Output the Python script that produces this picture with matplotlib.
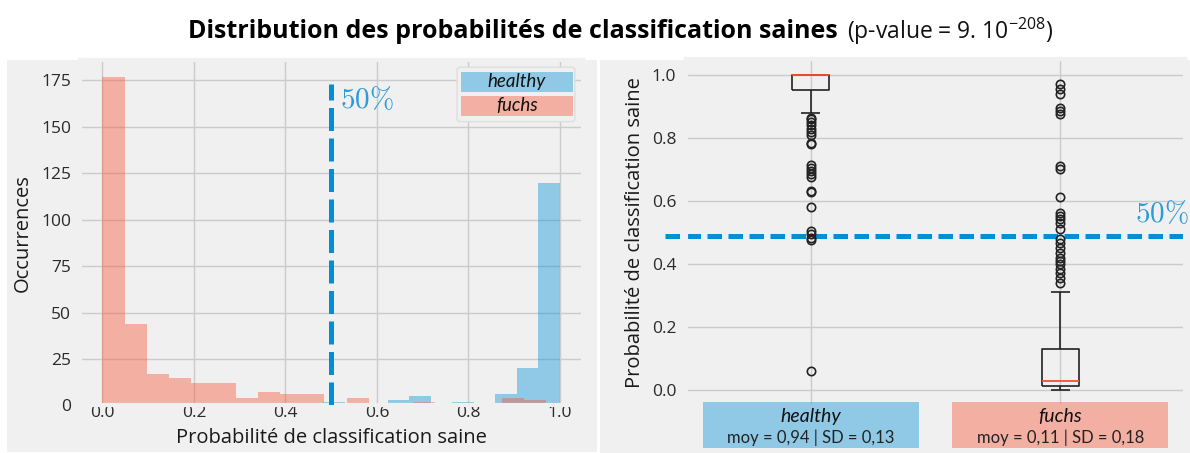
import numpy as np
import matplotlib
matplotlib.use("Agg")
import matplotlib.pyplot as plt
from matplotlib.patches import Rectangle, FancyBboxPatch
from matplotlib.transforms import blended_transform_factory

plt.style.use("fivethirtyeight")
plt.rcParams["font.family"] = ["Open Sans", "DejaVu Sans"]
plt.rcParams["mathtext.default"] = "regular"

# --- histogram counts (20 bins each, bins span each group's min..max) ---
groups = ["healthy", "fuchs"]
healthy_range = (0.06, 1.0)
healthy_counts = [1, 0, 0, 0, 0, 0, 0, 0, 0, 2, 0, 0, 3, 5, 0, 2, 1, 6, 20, 120]
fuchs_range = (0.0, 0.97)
fuchs_counts = [177, 44, 17, 15, 12, 12, 4, 7, 6, 6, 0, 4, 0, 0, 2, 0, 0, 0, 4, 3]

# --- boxplot summaries ---
healthy_box = dict(q1=0.951, med=1.0, q3=1.0, whislo=0.88, whishi=1.0)
healthy_fliers = [0.864, 0.859, 0.850, 0.840, 0.829, 0.818, 0.811, 0.783, 0.781,
                  0.715, 0.705, 0.696, 0.685, 0.677, 0.632, 0.630, 0.581,
                  0.505, 0.494, 0.484, 0.476, 0.061]
fuchs_box = dict(q1=0.013, med=0.03, q3=0.131, whislo=0.0, whishi=0.31)
fuchs_fliers = [0.972, 0.956, 0.940, 0.896, 0.887, 0.877, 0.712, 0.701, 0.613,
                0.563, 0.553, 0.544, 0.531, 0.510, 0.478, 0.468, 0.452, 0.436,
                0.420, 0.411, 0.399, 0.383, 0.370, 0.356, 0.340]
means = [0.94, 0.11]
sds = [0.13, 0.18]

threshold_hist = 0.5
threshold_box = 0.49
p_value_text = r"(p-value = 9. 10$^{-208}$)"
pct_label = r"$\mathrm{50\%}$"

blue = "#008fd5"
red = "#fc4f30"
panel = "#f0f0f0"
txt = "#2a2a2a"
calib = ["Lato", "DejaVu Sans"]

fig = plt.figure(figsize=(11.9, 4.53), dpi=100, facecolor="white")

# grey backgrounds behind each panel
H = 453.0
W = 1190.0
fig.patches.append(Rectangle((7 / W, 1 / H), 590 / W, 392 / H, transform=fig.transFigure,
                             facecolor=panel, edgecolor="none", zorder=-10))
fig.patches.append(Rectangle((600 / W, 0), 590 / W, 393 / H, transform=fig.transFigure,
                             facecolor=panel, edgecolor="none", zorder=-10))

# ---------------- left: histogram ----------------
ax1 = fig.add_axes([0.0669, 0.1050, 0.4229, 0.7620])
ax1.set_facecolor(panel)
hb = np.linspace(*healthy_range, len(healthy_counts) + 1)
fb = np.linspace(*fuchs_range, len(fuchs_counts) + 1)
ax1.hist(hb[:-1], bins=hb, weights=healthy_counts, histtype="stepfilled",
         color=blue, alpha=0.4, lw=0, label="healthy")
ax1.hist(fb[:-1], bins=fb, weights=fuchs_counts, histtype="stepfilled",
         color=red, alpha=0.4, lw=0, label="fuchs")
ax1.set_xlim(-0.05, 1.05)
ax1.set_ylim(0, max(fuchs_counts) * 1.05)
ax1.set_xticks(np.arange(0, 1.01, 0.2))
ax1.set_yticks(np.arange(0, 176, 25))
ax1.vlines(threshold_hist, 0, 173, colors=blue, lw=3.6, linestyles=(0, (4.6, 1.5)), zorder=3)
ax1.text(threshold_hist + 0.02, 164, pct_label, math_fontfamily="cm", fontsize=21,
         color="#2b9bd9", va="center", ha="left")
ax1.tick_params(axis="both", labelsize=12.5, colors=txt, length=0)
ax1.tick_params(axis="x", pad=0)
ax1.tick_params(axis="y", pad=6)
ax1.grid(True, color="#cbcbcb", lw=1)
ax1.set_xlabel("Probabilité de classification saine", fontsize=14.5, color="#1a1a1a", va="center")
ax1.xaxis.set_label_coords(0.5, -0.095)
ax1.set_ylabel("Occurrences", fontsize=14.5, color="#1a1a1a", va="center")
ax1.yaxis.set_label_coords(-0.113, 0.5)

# legend drawn as coloured label boxes inside a light frame
ax1.add_patch(FancyBboxPatch((0.750, 0.822), 0.234, 0.158, transform=ax1.transAxes,
                             boxstyle="round,pad=0,rounding_size=0.008",
                             facecolor=panel, edgecolor="#dedede", lw=1, zorder=5))
for i, (name, col) in enumerate(zip(groups, [blue, red])):
    y0 = 0.908 - i * 0.069
    ax1.add_patch(Rectangle((0.758, y0), 0.222, 0.058, transform=ax1.transAxes,
                            facecolor=col, alpha=0.4, edgecolor="none", zorder=6))
    ax1.text(0.869, y0 + 0.029, name, transform=ax1.transAxes, ha="center", va="center",
             fontsize=13.5, style="italic", family=calib, color="#111111", zorder=7)

# ---------------- right: boxplot ----------------
ax2 = fig.add_axes([0.5765, 0.1043, 0.4193, 0.7650])
ax2.set_facecolor(panel)
stats = []
for name, box, fl in zip(groups, [healthy_box, fuchs_box], [healthy_fliers, fuchs_fliers]):
    s = dict(box)
    s["fliers"] = fl
    s["label"] = name
    stats.append(s)
ax2.bxp(stats, positions=[1, 2], widths=0.15,
        boxprops=dict(color="#222222", lw=1.2),
        whiskerprops=dict(color="#222222", lw=1.2),
        capprops=dict(color="#222222", lw=1.2),
        medianprops=dict(color=red, lw=1.3),
        flierprops=dict(marker="o", markerfacecolor="none", markeredgecolor="#222222",
                        markersize=6, markeredgewidth=1.2))
ax2.set_xlim(0.5, 2.5)
ax2.set_ylim(-0.05, 1.05)
ax2.set_xticks([1, 2])
ax2.set_xticklabels(["", ""])
ax2.set_yticks(np.arange(0, 1.01, 0.2))
ax2.tick_params(axis="both", labelsize=12.5, colors=txt, length=0)
ax2.tick_params(axis="y", pad=7)
ax2.grid(True, color="#cbcbcb", lw=1)
ax2.axhline(threshold_box, xmin=-0.042, xmax=1.02, color=blue, lw=3.6,
            ls=(0, (2.9, 1.3)), clip_on=False, zorder=1)
ax2.text(2.3, 0.557, pct_label, math_fontfamily="cm", fontsize=21, color="#2b9bd9",
         va="center", ha="left", clip_on=False)
ax2.set_ylabel("Probabilité de classification saine", fontsize=14.5, color="#1a1a1a", va="center")
ax2.yaxis.set_label_coords(-0.102, 0.5)

# group captions under each box
tr = blended_transform_factory(ax2.transData, ax2.transAxes)
for pos, name, col, m, sd in zip([1, 2], groups, [blue, red], means, sds):
    ax2.add_patch(Rectangle((pos - 0.432, -0.122), 0.864, 0.133, transform=tr,
                            facecolor=col, alpha=0.4, edgecolor="none", clip_on=False, zorder=4))
    ax2.text(pos, -0.030, name, transform=tr, ha="center", va="center", fontsize=14,
             style="italic", family=calib, color="#111111", zorder=5)
    caption = f"moy = {m:.2f} | SD = {sd:.2f}".replace(".", ",")
    ax2.text(pos, -0.092, caption, transform=tr, ha="center", va="center", fontsize=12,
             family=calib, color="#222222", zorder=5)

# ---------------- title ----------------
fig.text(188 / W, 1 - 31 / H, "Distribution des probabilités de classification saines",
         fontsize=18, fontweight="bold", family=["Open Sans", "DejaVu Sans"], color="black",
         ha="left", va="center")
fig.text(847 / W, 1 - 31 / H, p_value_text, fontsize=16.5, family=["Open Sans", "DejaVu Sans"],
         color="#111111", ha="left", va="center")

fig.savefig("out.png", dpi=100, facecolor="white")
